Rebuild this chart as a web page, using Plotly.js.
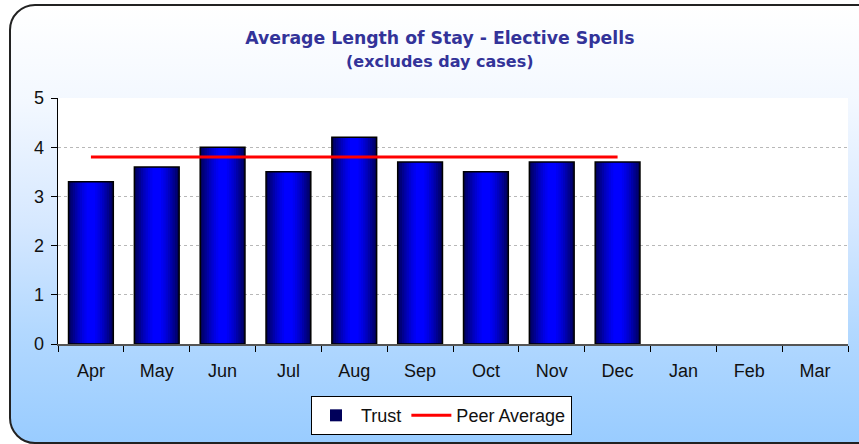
<!DOCTYPE html>
<html>
<head>
<meta charset="utf-8">
<script src="https://cdn.plot.ly/plotly-3.0.1.min.js"></script>
<style>
  html, body { margin: 0; padding: 0; width: 859px; height: 444px; overflow: hidden; background: #ffffff; }
  #bg { position: absolute; left: 9px; top: 4px; width: 900px; height: 436px;
        border: 2px solid #222; border-radius: 26px;
        background: linear-gradient(to bottom, #ffffff 0%, #f3f8ff 22%, #d6e8ff 50%, #b2d8ff 75%, #99ccff 100%); }
  #chart { position: absolute; left: 0; top: 0; width: 859px; height: 444px; }
</style>
</head>
<body>
<div id="bg"></div>
<div id="chart"></div>
<script>
const months = ["Apr","May","Jun","Jul","Aug","Sep","Oct","Nov","Dec","Jan","Feb","Mar"];
const trustMonths = ["Apr","May","Jun","Jul","Aug","Sep","Oct","Nov","Dec"];
const trustValues = [3.3, 3.6, 4.0, 3.5, 4.2, 3.7, 3.5, 3.7, 3.7];
const peerMonths = ["Apr","May","Jun","Jul","Aug","Sep","Oct","Nov","Dec"];
const peerValues = [3.8, 3.8, 3.8, 3.8, 3.8, 3.8, 3.8, 3.8, 3.8];

// horizontal gradient imitation: nested bars, outer dark -> centre bright
const layerWidths = [0.68, 0.62, 0.55, 0.48, 0.41, 0.34, 0.27, 0.20, 0.13];
const layerColors = ["#00005a", "#000078", "#000090", "#0000a8", "#0000bf", "#0000d2", "#0000e4", "#0000f2", "#0000ff"];

const traces = [];
layerWidths.forEach((w, i) => {
  traces.push({
    type: "bar", x: trustMonths, y: trustValues, width: w,
    name: "Trust", showlegend: i === 0, legendgroup: "trust",
    marker: { color: layerColors[i], line: { width: 0 } },
    hoverinfo: "skip"
  });
});
traces.push({
  type: "bar", x: trustMonths, y: trustValues, width: layerWidths[0],
  name: "Trust outline", showlegend: false, legendgroup: "trust",
  marker: { color: "rgba(0,0,0,0)", line: { color: "#000000", width: 1.5 } }
});
traces.push({
  type: "scatter", mode: "lines", x: peerMonths, y: peerValues,
  name: "Peer Average", line: { color: "#ff0000", width: 3 }
});

const layout = {
  width: 859, height: 444,
  paper_bgcolor: "rgba(0,0,0,0)", plot_bgcolor: "#ffffff",
  margin: { l: 58, r: 11, t: 98, b: 100 },
  barmode: "overlay",
  font: { family: "Liberation Sans, Arial, sans-serif", color: "#111111", size: 18 },
  title: {
    text: "Average Length of Stay - Elective Spells<br><span style='font-size:16px'>(excludes day cases)</span>",
    font: { family: "DejaVu Sans, Verdana, sans-serif", size: 17.3, color: "#333399", weight: "bold" },
    xref: "container", x: 0.512, xanchor: "center",
    yref: "container", y: 0.9, yanchor: "top"
  },
  xaxis: {
    type: "category", categoryorder: "array", categoryarray: months,
    range: [-0.5, 11.5],
    showline: true, linecolor: "#555555", linewidth: 1.5,
    ticks: "outside", tickson: "boundaries", ticklen: 6, tickcolor: "#000000",
    showgrid: false, tickfont: { size: 18 }, ticklabelstandoff: 10
  },
  yaxis: {
    range: [0, 5], dtick: 1, tick0: 0,
    showline: true, linecolor: "#000000", linewidth: 1.5,
    ticks: "outside", ticklen: 6, tickcolor: "#000000",
    showgrid: true, gridcolor: "#b8b8b8", griddash: "dot", gridwidth: 1,
    zeroline: false, tickfont: { size: 18 }, ticklabelstandoff: 3
  },
  legend: {
    orientation: "h", xref: "container", yref: "container",
    x: 0.514, xanchor: "center", y: 0.02, yanchor: "bottom",
    bgcolor: "#ffffff", bordercolor: "#000000", borderwidth: 1,
    font: { size: 18, color: "#111111" }, itemwidth: 40
  },
  showlegend: true
};

Plotly.newPlot("chart", traces, layout, { displayModeBar: false, staticPlot: true });
</script>
</body>
</html>
